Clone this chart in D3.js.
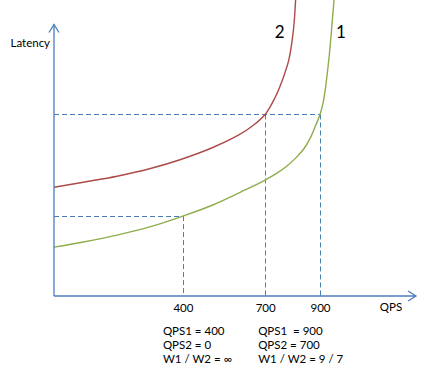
<!DOCTYPE html>
<html>
<head>
<meta charset="utf-8">
<script src="https://cdn.jsdelivr.net/npm/d3@7"></script>
<style>
  body { margin: 0; background: #fff; }
  text { font-family: Lato, "Open Sans", sans-serif; fill: #000; }
</style>
</head>
<body>
<svg id="chart" width="426" height="373"></svg>
<script>
// curve 1 (green) and curve 2 (red): latency vs QPS
const curve1Qps = [-70, 37, 160, 282, 400, 509, 627, 700, 740, 776, 812, 842, 867, 885, 900, 911, 920, 927, 934, 942, 951];
const curve1Latency = [9.9, 10.95, 12.35, 14.05, 16.2, 18.45, 21.5, 23.5, 24.8, 26.2, 28.0, 29.9, 32.3, 34.7, 36.8, 39.1, 42.2, 45.4, 48.9, 53.9, 60];
const curve2Qps = [-70, 37, 160, 282, 392, 509, 604, 651, 700, 737, 763, 786, 803, 811];
const curve2Latency = [22.05, 23.07, 24.28, 25.84, 27.67, 30.1, 32.64, 34.36, 36.8, 40.34, 43.8, 47.8, 53.9, 60];

// dashed guides: operating points
const guideQps = [400, 700, 900];
const guideLatency = [16.2, 36.8, 36.8];

const tickValues = [400, 700, 900];
const curveNames = ["1", "2"];

const note1 = ["QPS1 = 400", "QPS2 = 0", "W1 / W2 = \u221E"];
const note2 = ["QPS1  = 900", "QPS2 = 700", "W1 / W2 = 9 / 7"];

const svg = d3.select("#chart");
const mLeft = 54, mRight = 416, mBottom = 296, mTop = 24.5;

const x = d3.scaleLinear().domain([-70, 1250]).range([mLeft, mRight]);
const y = d3.scaleLinear().domain([0, 60]).range([mBottom, 0]);

const blue = "#4a7ebb";

// dashed guide lines
const guides = guideQps.map((q, i) => ({ qps: q, latency: guideLatency[i] }));
const g = svg.append("g")
  .attr("stroke", blue)
  .attr("stroke-width", 1)
  .attr("stroke-dasharray", "5,3")
  .attr("fill", "none");

g.selectAll("line.h")
  .data(guides)
  .join("line")
  .attr("class", "h")
  .attr("x1", mLeft)
  .attr("x2", (d) => x(d.qps))
  .attr("y1", (d) => Math.round(y(d.latency)) + 0.5)
  .attr("y2", (d) => Math.round(y(d.latency)) + 0.5);

g.selectAll("line.v")
  .data(guides)
  .join("line")
  .attr("class", "v")
  .attr("x1", (d) => Math.round(x(d.qps)) + 0.5)
  .attr("x2", (d) => Math.round(x(d.qps)) + 0.5)
  .attr("y1", (d) => y(d.latency))
  .attr("y2", mBottom);

// curves
const series = [
  { name: curveNames[0], qps: curve1Qps, latency: curve1Latency, color: "#8fad4c", dx: 7 },
  { name: curveNames[1], qps: curve2Qps, latency: curve2Latency, color: "#ad4b4a", dx: -16 },
];

const line = d3.line()
  .x((d) => x(d[0]))
  .y((d) => y(d[1]))
  .curve(d3.curveCatmullRom.alpha(0.5));

svg.append("g")
  .selectAll("path")
  .data(series)
  .join("path")
  .attr("d", (s) => line(d3.zip(s.qps, s.latency)))
  .attr("fill", "none")
  .attr("stroke", (s) => s.color)
  .attr("stroke-width", 1.4);

svg.append("g")
  .selectAll("text")
  .data(series)
  .join("text")
  .attr("x", (s) => x(s.qps[s.qps.length - 1]) + s.dx)
  .attr("y", 38)
  .attr("text-anchor", "middle")
  .style("font-size", "17px")
  .text((s) => s.name);

// axes
const axis = svg.append("g")
  .attr("stroke", blue)
  .attr("stroke-width", 1.3)
  .attr("fill", "none");

axis.append("path").attr("d", `M${mLeft},${mBottom}V${mTop}`);
axis.append("path").attr("d", `M${mLeft - 5},${mTop + 8}L${mLeft},${mTop}L${mLeft + 5},${mTop + 8}`);
axis.append("path").attr("d", `M${mLeft},${mBottom}H${mRight}`);
axis.append("path").attr("d", `M${mRight - 8},${mBottom - 5}L${mRight},${mBottom}L${mRight - 8},${mBottom + 5}`);

const xAxis = svg.append("g")
  .attr("transform", `translate(0,${mBottom})`)
  .call(d3.axisBottom(x).tickValues(tickValues).tickSize(0).tickPadding(8));
xAxis.select(".domain").remove();
xAxis.selectAll("text")
  .style("font-family", "Lato, 'Open Sans', sans-serif")
  .style("font-size", "11.5px")
  .attr("fill", "#000");

svg.append("text")
  .attr("x", 391)
  .attr("y", 310.5)
  .attr("text-anchor", "middle")
  .style("font-size", "11.5px")
  .text("QPS");

svg.append("text")
  .attr("x", 10.5)
  .attr("y", 47)
  .style("font-size", "11.5px")
  .text("Latency");

// notes under the axis
const notes = [
  { lines: note1, qps: 400, dx: -20 },
  { lines: note2, qps: 700, dx: -7 },
];

svg.append("g")
  .selectAll("text")
  .data(notes.flatMap((n) => n.lines.map((t, i) => ({ t, i, n }))))
  .join("text")
  .attr("x", (d) => x(d.n.qps) + d.n.dx)
  .attr("y", (d) => 334.5 + d.i * 14)
  .style("font-size", "11.5px")
  .style("white-space", "pre")
  .text((d) => d.t);
</script>
</body>
</html>
